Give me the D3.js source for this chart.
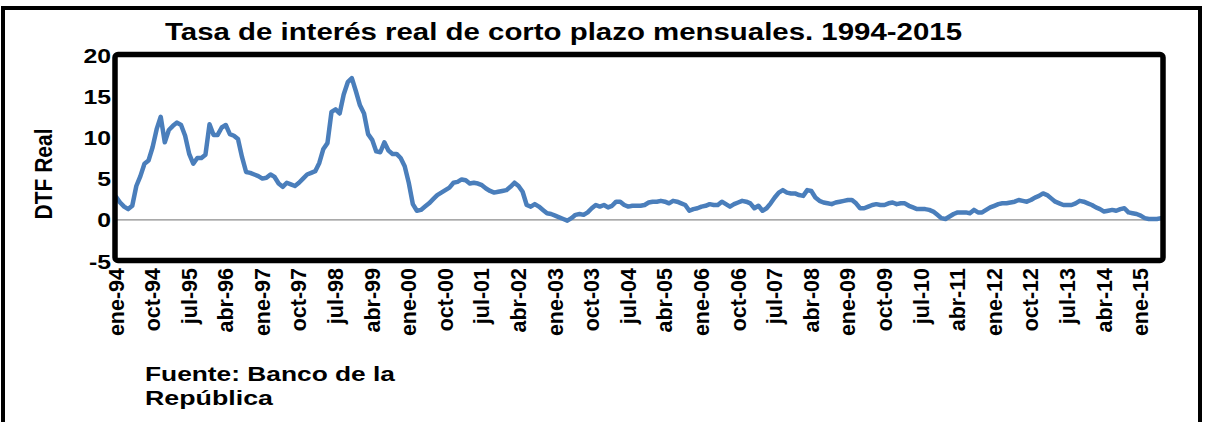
<!DOCTYPE html>
<html>
<head>
<meta charset="utf-8">
<script src="https://cdn.jsdelivr.net/npm/d3@7"></script>
<style>
  body { margin: 0; background: #fff; }
  text { font-family: "Liberation Sans", Arial, sans-serif; font-weight: bold; fill: #000; }
</style>
</head>
<body>
<div id="chart"></div>
<script>
// DTF real, mensual (ene-1994 ... jun-2015)
const dtf1994 = [2.8, 2.1, 1.6, 1.3, 1.7, 4.1, 5.3, 6.8, 7.2, 8.8, 11.0, 12.5];
const dtf1995 = [9.4, 10.9, 11.4, 11.8, 11.5, 10.2, 8.0, 6.8, 7.5, 7.5, 7.9, 11.6];
const dtf1996 = [10.3, 10.3, 11.2, 11.5, 10.4, 10.2, 9.8, 7.6, 5.8, 5.7, 5.5, 5.3];
const dtf1997 = [5.0, 5.1, 5.5, 5.2, 4.4, 4.0, 4.5, 4.3, 4.1, 4.5, 5.0, 5.5];
const dtf1998 = [5.7, 5.9, 6.9, 8.6, 9.3, 13.1, 13.4, 12.9, 15.2, 16.7, 17.2, 15.6];
const dtf1999 = [13.9, 12.9, 10.4, 9.7, 8.3, 8.2, 9.4, 8.4, 8.0, 8.0, 7.5, 6.5];
const dtf2000 = [4.5, 1.9, 1.1, 1.2, 1.6, 2.0, 2.5, 3.0, 3.3, 3.6, 3.9, 4.5];
const dtf2001 = [4.6, 4.9, 4.8, 4.4, 4.5, 4.4, 4.2, 3.8, 3.5, 3.3, 3.4, 3.5];
const dtf2002 = [3.6, 4.0, 4.5, 4.1, 3.4, 1.8, 1.6, 1.9, 1.6, 1.2, 0.8, 0.7];
const dtf2003 = [0.5, 0.3, 0.1, -0.1, 0.2, 0.6, 0.7, 0.6, 0.9, 1.4, 1.8, 1.6];
const dtf2004 = [1.8, 1.5, 1.7, 2.2, 2.2, 1.8, 1.6, 1.7, 1.7, 1.7, 1.8, 2.1];
const dtf2005 = [2.2, 2.2, 2.3, 2.2, 2.0, 2.3, 2.2, 2.0, 1.8, 1.1, 1.3, 1.4];
const dtf2006 = [1.6, 1.7, 1.9, 1.8, 1.8, 2.2, 1.9, 1.6, 1.9, 2.1, 2.3, 2.2];
const dtf2007 = [2.0, 1.4, 1.7, 1.1, 1.4, 2.0, 2.7, 3.3, 3.6, 3.3, 3.2, 3.2];
const dtf2008 = [3.0, 2.9, 3.6, 3.5, 2.7, 2.3, 2.1, 2.0, 1.9, 2.1, 2.2, 2.3];
const dtf2009 = [2.4, 2.4, 2.0, 1.4, 1.4, 1.6, 1.8, 1.9, 1.8, 1.8, 2.0, 2.1];
const dtf2010 = [1.9, 2.0, 2.0, 1.7, 1.5, 1.3, 1.3, 1.3, 1.2, 1.0, 0.6, 0.2];
const dtf2011 = [0.1, 0.4, 0.7, 0.9, 0.9, 0.9, 0.8, 1.2, 0.9, 0.9, 1.2, 1.5];
const dtf2012 = [1.7, 1.9, 2.0, 2.0, 2.1, 2.2, 2.4, 2.3, 2.2, 2.4, 2.7, 2.9];
const dtf2013 = [3.2, 3.0, 2.6, 2.2, 2.0, 1.8, 1.8, 1.8, 2.0, 2.3, 2.2, 2.0];
const dtf2014 = [1.8, 1.5, 1.3, 1.0, 1.1, 1.2, 1.1, 1.3, 1.4, 0.9, 0.8, 0.7];
const dtf2015 = [0.5, 0.2, 0.1, 0.1, 0.1, 0.2];

const xTickLabels = ["ene-94", "oct-94", "jul-95", "abr-96", "ene-97", "oct-97", "jul-98", "abr-99",
  "ene-00", "oct-00", "jul-01", "abr-02", "ene-03", "oct-03", "jul-04", "abr-05", "ene-06", "oct-06",
  "jul-07", "abr-08", "ene-09", "oct-09", "jul-10", "abr-11", "ene-12", "oct-12", "jul-13", "abr-14", "ene-15"];
const yTicks = [20, 15, 10, 5, 0, -5];

const values = [].concat(dtf1994, dtf1995, dtf1996, dtf1997, dtf1998, dtf1999, dtf2000, dtf2001,
  dtf2002, dtf2003, dtf2004, dtf2005, dtf2006, dtf2007, dtf2008, dtf2009, dtf2010, dtf2011,
  dtf2012, dtf2013, dtf2014, dtf2015);

const width = 1208, height = 422;
const stretch = 1.18; // el original está estirado en horizontal

const svg = d3.select("#chart").append("svg")
  .attr("width", width)
  .attr("height", height);

// marco exterior
svg.append("rect")
  .attr("x", 3).attr("y", 8)
  .attr("width", 1197).attr("height", 430)
  .attr("fill", "none")
  .attr("stroke", "#000")
  .attr("stroke-width", 4);

const plot = { left: 116, right: 1161, top: 55, bottom: 261 };

const x = d3.scaleLinear()
  .domain([0, values.length - 1])
  .range([plot.left, plot.right]);

const y = d3.scaleLinear()
  .domain([-5, 20])
  .range([plot.bottom, plot.top]);

// linea de cero
svg.append("line")
  .attr("x1", plot.left).attr("x2", plot.right)
  .attr("y1", y(0)).attr("y2", y(0))
  .attr("stroke", "#8c8c8c")
  .attr("stroke-width", 1.2);

// serie
svg.append("path")
  .datum(values)
  .attr("fill", "none")
  .attr("stroke", "#4a7ebb")
  .attr("stroke-width", 4.5)
  .attr("stroke-linejoin", "round")
  .attr("stroke-linecap", "round")
  .attr("d", d3.line().x((d, i) => x(i)).y(d => y(d)));

// borde del area de trazado
svg.append("rect")
  .attr("x", plot.left - 1).attr("y", plot.top - 0.5)
  .attr("width", plot.right - plot.left + 3).attr("height", plot.bottom - plot.top)
  .attr("rx", 3)
  .attr("fill", "none")
  .attr("stroke", "#000")
  .attr("stroke-width", 5.5);

// eje Y
const yAxis = svg.append("g");
yAxis.selectAll("text")
  .data(yTicks)
  .join("text")
  .attr("transform", d => `translate(111,${y(d) + 7.5}) scale(${stretch},1)`)
  .attr("text-anchor", "end")
  .style("font-size", "21px")
  .text(d => d);

svg.append("text")
  .attr("transform", `translate(52,174) scale(${stretch},1) rotate(-90)`)
  .attr("text-anchor", "middle")
  .style("font-size", "21px")
  .text("DTF Real");

// eje X
const tickIdx = xTickLabels.map((d, i) => i * 9);
svg.append("g").selectAll("text")
  .data(tickIdx)
  .join("text")
  .attr("transform", d => `translate(${x(d) + 7.5},268) scale(1.05,1) rotate(-90)`)
  .attr("text-anchor", "end")
  .style("font-size", "21.5px")
  .text((d, i) => xTickLabels[i]);

// titulo
svg.append("text")
  .attr("x", 165).attr("y", 40)
  .attr("textLength", 797)
  .attr("lengthAdjust", "spacingAndGlyphs")
  .style("font-size", "23px")
  .text("Tasa de interés real de corto plazo mensuales. 1994-2015");

// fuente
svg.append("text")
  .attr("x", 145).attr("y", 381)
  .attr("textLength", 250)
  .attr("lengthAdjust", "spacingAndGlyphs")
  .style("font-size", "20px")
  .text("Fuente: Banco de la");
svg.append("text")
  .attr("x", 145).attr("y", 405)
  .attr("textLength", 128)
  .attr("lengthAdjust", "spacingAndGlyphs")
  .style("font-size", "20px")
  .text("República");
</script>
</body>
</html>
